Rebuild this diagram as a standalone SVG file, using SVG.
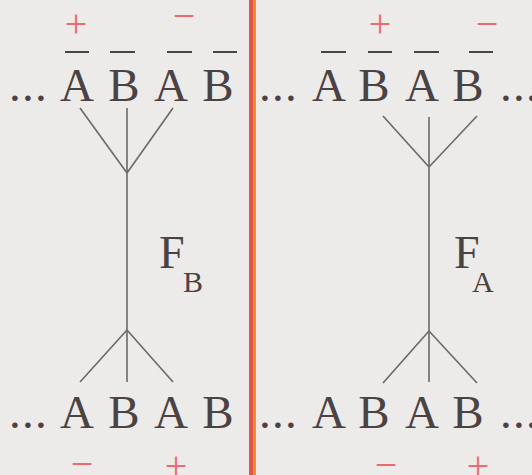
<svg xmlns="http://www.w3.org/2000/svg" width="532" height="475" viewBox="0 0 532 475">
  <style>
    .seq { font-family: "Liberation Serif", "DejaVu Serif", serif; font-size: 47px; fill: #4a4243; text-anchor: middle; }
    .dots { font-family: "Liberation Serif", "DejaVu Serif", serif; font-size: 47px; fill: #4a4243; letter-spacing: 1.3px; }
    .sign { font-family: "Liberation Serif", "DejaVu Serif", serif; font-size: 40px; fill: #ee6a72; text-anchor: middle; }
    .lbl { font-family: "Liberation Serif", "DejaVu Serif", serif; fill: #4a4243; }
    .bar { stroke: #4a4243; stroke-width: 2; }
    .conn { stroke: #6e6767; stroke-width: 1.6; fill: none; }
  </style>
  <rect x="0" y="0" width="532" height="475" fill="#ecebe9"/>

  <g id="divider">
    <rect x="249" y="0" width="4" height="475" fill="#e8524c"/>
    <rect x="253" y="0" width="3" height="475" fill="#e8922e"/>
  </g>

  <g id="top-left">
    <text class="dots" x="9" y="101">...</text>
    <text class="seq" x="77" y="101">A</text>
    <text class="seq" x="124" y="101">B</text>
    <text class="seq" x="171" y="101">A</text>
    <text class="seq" x="218" y="101">B</text>
    <line class="bar" x1="65" y1="52" x2="89" y2="52"/>
    <line class="bar" x1="110" y1="52" x2="135" y2="52"/>
    <line class="bar" x1="167" y1="52" x2="192" y2="52"/>
    <line class="bar" x1="213" y1="52" x2="237" y2="52"/>
    <text class="sign" x="76" y="37">+</text>
    <text class="sign" x="184" y="29">−</text>
  </g>

  <g id="top-right">
    <text class="dots" x="259" y="101">...</text>
    <text class="seq" x="329" y="101">A</text>
    <text class="seq" x="374" y="101">B</text>
    <text class="seq" x="422" y="101">A</text>
    <text class="seq" x="468" y="101">B</text>
    <text class="dots" x="500" y="101">...</text>
    <line class="bar" x1="321" y1="52" x2="346" y2="52"/>
    <line class="bar" x1="368" y1="52" x2="392" y2="52"/>
    <line class="bar" x1="414" y1="52" x2="439" y2="52"/>
    <line class="bar" x1="469" y1="52" x2="493" y2="52"/>
    <text class="sign" x="380" y="37">+</text>
    <text class="sign" x="487" y="37">−</text>
  </g>

  <g id="bottom-left">
    <text class="dots" x="9" y="428">...</text>
    <text class="seq" x="77" y="428">A</text>
    <text class="seq" x="124" y="428">B</text>
    <text class="seq" x="171" y="428">A</text>
    <text class="seq" x="218" y="428">B</text>
    <text class="sign" x="82" y="477">−</text>
    <text class="sign" x="176" y="479">+</text>
  </g>

  <g id="bottom-right">
    <text class="dots" x="259" y="428">...</text>
    <text class="seq" x="329" y="428">A</text>
    <text class="seq" x="374" y="428">B</text>
    <text class="seq" x="422" y="428">A</text>
    <text class="seq" x="468" y="428">B</text>
    <text class="dots" x="500" y="428">...</text>
    <text class="sign" x="386" y="478">−</text>
    <text class="sign" x="478" y="479">+</text>
  </g>

  <g id="label-FB">
    <text class="lbl" x="159" y="268" font-size="46">F</text>
    <text class="lbl" x="183" y="292" font-size="30">B</text>
  </g>

  <g id="label-FA">
    <text class="lbl" x="454" y="268" font-size="46">F</text>
    <text class="lbl" x="472" y="292" font-size="30">A</text>
  </g>

  <g id="connectors">
    <line class="conn" x1="127" y1="108" x2="127" y2="382"/>
    <line class="conn" x1="80" y1="108" x2="127" y2="173"/>
    <line class="conn" x1="173" y1="108" x2="127" y2="173"/>
    <line class="conn" x1="127" y1="330" x2="80" y2="382"/>
    <line class="conn" x1="127" y1="330" x2="173" y2="382"/>

    <line class="conn" x1="429" y1="117" x2="429" y2="382"/>
    <line class="conn" x1="383" y1="116" x2="429" y2="167"/>
    <line class="conn" x1="477" y1="116" x2="429" y2="167"/>
    <line class="conn" x1="429" y1="331" x2="383" y2="383"/>
    <line class="conn" x1="429" y1="331" x2="477" y2="383"/>
  </g>
</svg>
